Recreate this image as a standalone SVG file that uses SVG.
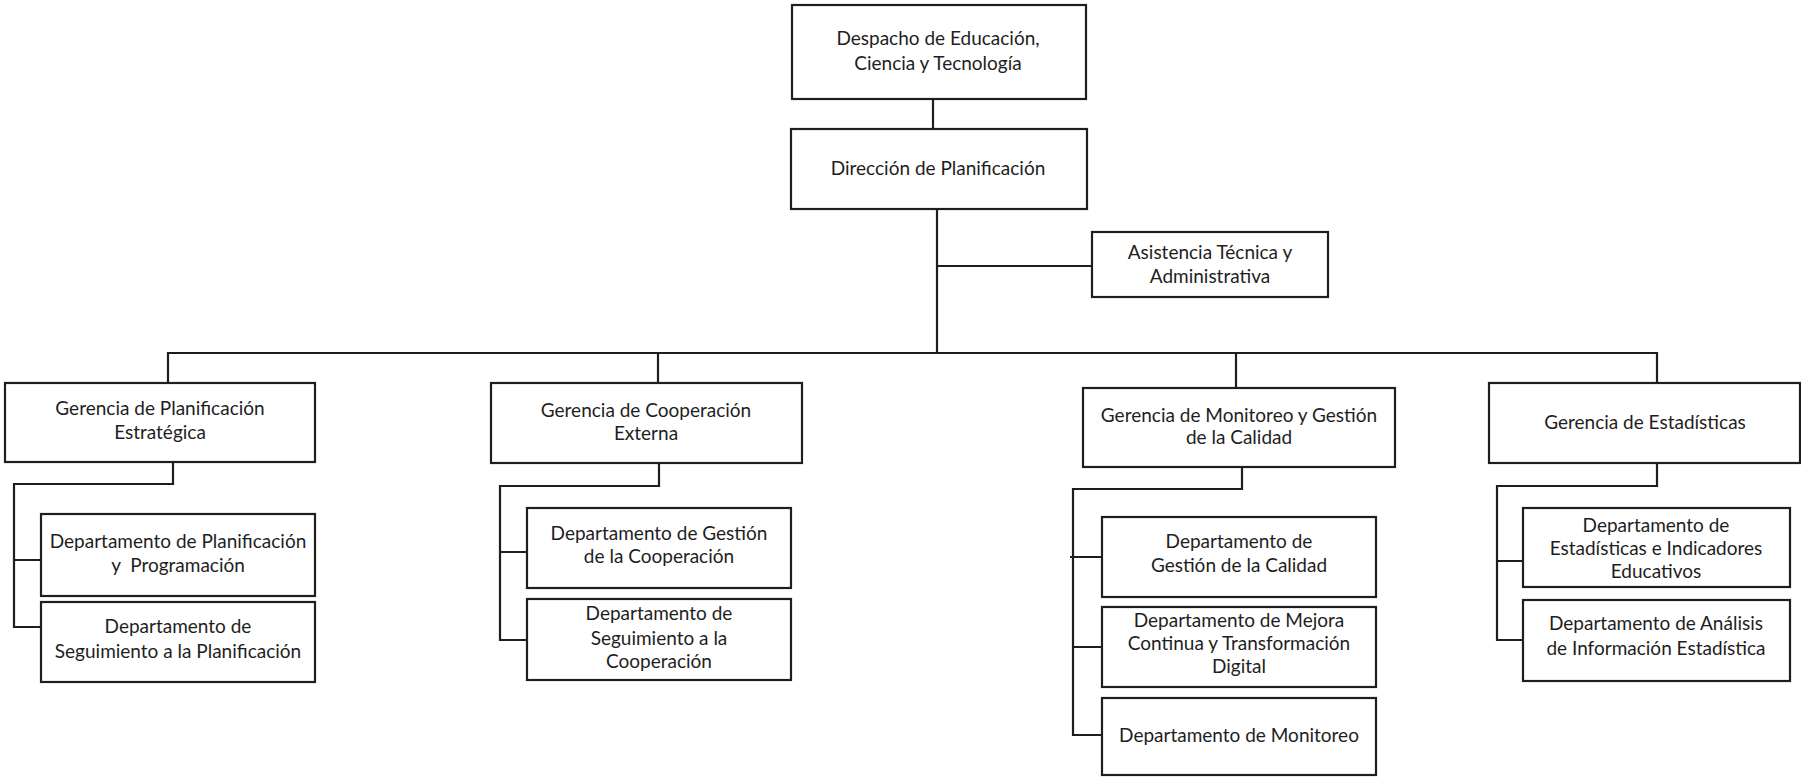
<svg xmlns="http://www.w3.org/2000/svg" width="1801" height="779" viewBox="0 0 1801 779">
<style>
rect.box{fill:#fff;stroke:#1e1e1e;stroke-width:2.2}
.conn path{fill:none;stroke:#1e1e1e;stroke-width:2.2}
text{font-family:Lato,"Liberation Sans",sans-serif;font-size:19px;fill:#1e1e1e;text-anchor:middle}
</style>
<rect width="1801" height="779" fill="#fff"/>
<g class="conn" id="connectors">
<path d="M933 99V130"/>
<path d="M937 210V353"/>
<path d="M937 266H1092"/>
<path d="M168 383V353H1657V383"/>
<path d="M658 353V383"/>
<path d="M1236 353V388"/>
<path d="M173 462V484H14V627H41M14 560H41"/>
<path d="M659 463V486H500V640H527M500 552H527"/>
<path d="M1242 467V489H1073V735H1102M1070 557H1102M1073 647H1102"/>
<path d="M1657 463V486H1497V640H1523M1497 561H1523"/>
</g>
<g id="despacho"><rect class="box" x="792" y="5" width="294" height="94"/><text x="938" y="45">Despacho de Educación,</text><text x="938" y="70">Ciencia y Tecnología</text></g>
<g id="direccion"><rect class="box" x="791" y="129" width="296" height="80"/><text x="938" y="175">Dirección de Planificación</text></g>
<g id="asistencia"><rect class="box" x="1092" y="232" width="236" height="65"/><text x="1210" y="259">Asistencia Técnica y</text><text x="1210" y="283">Administrativa</text></g>
<g id="ger-planif"><rect class="box" x="5" y="383" width="310" height="79"/><text x="160" y="415">Gerencia de Planificación</text><text x="160" y="439">Estratégica</text></g>
<g id="dep-planif-prog"><rect class="box" x="41" y="514" width="274" height="82"/><text x="178" y="548">Departamento de Planificación</text><text x="178" y="572">y&#160; Programación</text></g>
<g id="dep-seg-planif"><rect class="box" x="41" y="602" width="274" height="80"/><text x="178" y="633">Departamento de</text><text x="178" y="658">Seguimiento a la Planificación</text></g>
<g id="ger-coop"><rect class="box" x="491" y="383" width="311" height="80"/><text x="646" y="417">Gerencia de Cooperación</text><text x="646" y="440">Externa</text></g>
<g id="dep-gest-coop"><rect class="box" x="527" y="508" width="264" height="80"/><text x="659" y="540">Departamento de Gestión</text><text x="659" y="563">de la Cooperación</text></g>
<g id="dep-seg-coop"><rect class="box" x="527" y="599" width="264" height="81"/><text x="659" y="620">Departamento de</text><text x="659" y="645">Seguimiento a la</text><text x="659" y="668">Cooperación</text></g>
<g id="ger-monit"><rect class="box" x="1083" y="388" width="312" height="79"/><text x="1239" y="422">Gerencia de Monitoreo y Gestión</text><text x="1239" y="444">de la Calidad</text></g>
<g id="dep-gest-cal"><rect class="box" x="1102" y="517" width="274" height="80"/><text x="1239" y="548">Departamento de</text><text x="1239" y="572">Gestión de la Calidad</text></g>
<g id="dep-mejora"><rect class="box" x="1102" y="607" width="274" height="80"/><text x="1239" y="627">Departamento de Mejora</text><text x="1239" y="650">Continua y Transformación</text><text x="1239" y="673">Digital</text></g>
<g id="dep-monit"><rect class="box" x="1102" y="698" width="274" height="77"/><text x="1239" y="742">Departamento de Monitoreo</text></g>
<g id="ger-estad"><rect class="box" x="1489" y="383" width="311" height="80"/><text x="1645" y="429">Gerencia de Estadísticas</text></g>
<g id="dep-estad-ind"><rect class="box" x="1523" y="508" width="267" height="79"/><text x="1656" y="532">Departamento de</text><text x="1656" y="555">Estadísticas e Indicadores</text><text x="1656" y="578">Educativos</text></g>
<g id="dep-analisis"><rect class="box" x="1523" y="600" width="267" height="81"/><text x="1656" y="630">Departamento de Análisis</text><text x="1656" y="655">de Información Estadística</text></g>
</svg>
